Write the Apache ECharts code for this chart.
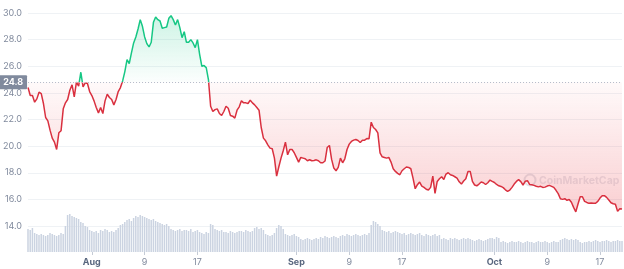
<!DOCTYPE html>
<html><head><meta charset="utf-8">
<script src="https://cdn.jsdelivr.net/npm/echarts@6/dist/echarts.min.js"></script>
<style>html,body{margin:0;padding:0;background:#fff}#c{width:624px;height:269px}</style>
</head><body><div id="c"></div>
<script>
// ---- data ----
const startTimeUTC = Date.UTC(2023, 6, 22, 8); // Jul 22, 08:00
const stepHours = 8;
const baselineValue = 24.8;

const priceValues = [
  24.4, 23.8, 23.8, 23.3, 23.55, 24.05, 23.95, 23.2, 22.15, 21.9,
  21.2, 20.6, 20.3, 19.75, 21.0, 21.15, 22.8, 23.25, 23.5, 24.2,
  24.6, 23.7, 24.8, 24.5, 25.55, 24.45, 24.75, 24.7, 24.1, 23.8,
  23.4, 22.9, 22.5, 22.9, 22.45, 23.4, 23.9, 23.65, 23.5, 23.1,
  23.5, 24.1, 24.4, 24.9, 25.6, 26.5, 26.2, 27.0, 27.75, 28.2,
  28.8, 29.5, 29.0, 28.2, 27.7, 27.45, 27.8, 29.3, 29.7, 29.5,
  29.4, 28.85, 28.9, 28.95, 29.6, 29.8, 29.5, 29.1, 29.5, 28.9,
  28.15, 28.6, 27.8, 27.8, 28.0, 27.75, 27.4, 28.0, 26.9, 26.0,
  26.05, 25.9, 25.0, 23.0, 22.6, 22.74, 22.8, 22.45, 22.3, 22.6,
  23.0, 22.85, 22.3, 22.25, 22.1, 22.7, 22.95, 23.4, 23.25, 23.25,
  23.2, 23.45, 23.25, 23.1, 22.9, 22.7, 21.4, 20.6, 20.4, 20.1,
  19.85, 19.8, 19.1, 17.75, 18.45, 19.1, 19.65, 20.3, 19.35, 19.75,
  19.75, 19.5, 19.15, 18.8, 19.15, 19.1, 19.05, 18.9, 18.98, 18.9,
  18.92, 18.97, 18.9, 18.75, 18.75, 18.88, 19.9, 20.05, 19.0, 18.35,
  18.15, 18.4, 19.1, 18.75, 19.05, 19.75, 20.15, 20.35, 20.45, 20.5,
  20.42, 20.27, 20.45, 20.45, 20.57, 20.55, 21.8, 21.4, 21.25, 21.0,
  19.5, 19.2, 19.15, 19.1, 19.15, 18.8, 18.3, 18.1, 17.95, 17.85,
  18.15, 18.3, 18.43, 18.4, 18.3, 17.6, 16.8, 17.1, 17.3, 17.0,
  16.9, 16.76, 16.7, 16.9, 17.75, 16.45, 17.35, 17.55, 17.7, 17.5,
  17.9, 18.0, 17.85, 17.8, 17.7, 17.6, 17.32, 17.15, 17.38, 17.55,
  18.1, 18.1, 17.35, 17.08, 17.02, 17.15, 17.3, 17.25, 17.12, 17.25,
  17.45, 17.35, 17.27, 17.12, 17.02, 16.97, 16.88, 16.72, 16.6, 16.7,
  16.9, 17.15, 17.35, 17.48, 17.33, 17.08, 17.36, 17.4, 17.12, 17.1,
  17.05, 16.99, 16.94, 16.98, 16.9, 16.92, 17.0, 17.05, 16.98, 16.9,
  16.68, 16.43, 16.05, 16.0, 16.05, 15.93, 15.99, 15.78, 15.4, 15.06,
  15.65, 16.2, 16.2, 15.85, 15.77, 15.7, 15.72, 15.7, 15.71, 15.85,
  16.1, 16.28, 16.28, 16.15, 15.95, 15.75, 15.67, 15.63, 15.1, 15.3, 15.27
];

const volumeValues = [
  23, 22, 24,
  19, 18, 17, 18, 17,
  16, 17, 19, 18, 17, 16, 17,
  19, 18,
  26,
  37, 38, 36, 35,
  34, 33,
  30, 29,
  26, 25,
  22, 21, 20, 21, 19,
  22, 21, 23, 22, 20,
  21, 20, 22, 24,
  27, 28, 30,
  32, 33, 31, 34,
  36, 35, 37, 36, 35, 34,
  33, 32, 33, 31, 30,
  29, 28, 27, 28, 26,
  23, 22, 21, 22, 23, 21, 22,
  22, 21, 23, 20, 21, 22, 20,
  19, 18, 20, 19,
  28, 27,
  23, 22, 21, 22, 20,
  20, 19, 21, 20, 19, 20, 21,
  21, 20, 22, 21, 20, 21,
  24, 25, 23, 24, 22,
  18, 17, 16, 17, 19,
  24, 27, 26, 23,
  18, 17, 16, 17, 18, 16, 15,
  13, 12, 13, 14, 13, 12, 13, 14, 13,
  15, 14, 16, 15, 14, 15, 16, 15, 14, 16,
  17, 16, 18, 17, 16, 17, 18, 17, 16, 17, 18, 17, 19,
  27, 31, 30, 28, 26, 22, 21,
  20, 21, 19, 20, 21, 20, 19,
  18, 19, 17, 18, 19, 18, 17, 18, 19,
  17, 16, 18, 17, 16, 17, 18, 16, 17,
  13, 14, 13, 12, 14, 13, 14, 13, 12, 13, 14, 13, 14, 13,
  12, 11, 12, 13, 12, 11, 12, 13, 14,
  14, 13, 15, 14,
  10, 11, 10, 9, 10, 11, 10, 10, 11, 10, 9, 10, 11, 10, 10, 9, 10, 11, 10, 10, 11, 10, 9, 10, 11, 10, 10,
  12, 13, 14, 13, 12, 13, 12, 13, 12,
  10, 9, 10, 10,
  11, 10, 11, 12, 11, 10, 11, 11, 12, 11, 10, 11, 11, 12, 11, 11
];

const tickDates = ['08-01', '08-09', '08-17', '09-01', '09-09', '09-17', '10-01', '10-09', '10-17'];
const tickLabels = ['Aug', '9', '17', 'Sep', '9', '17', 'Oct', '9', '17'];

// ---- build ----
const pad = n => (n < 10 ? '0' : '') + n;
const categories = priceValues.map((_, i) => {
  const d = new Date(startTimeUTC + i * stepHours * 3600e3);
  return pad(d.getUTCMonth() + 1) + '-' + pad(d.getUTCDate()) + ' ' + pad(d.getUTCHours());
});
const tickIndex = {};
tickDates.forEach((d, k) => {
  const idx = categories.indexOf(d + ' 00');
  if (idx >= 0) tickIndex[idx] = tickLabels[k];
});

const FONT = 'Inter, "Noto Sans", sans-serif';
const GREEN = '#16c784', RED = '#d9303f';
const chart = echarts.init(document.getElementById('c'), null, { renderer: 'canvas' });

const option = {
  animation: false,
  textStyle: { fontFamily: FONT },
  grid: [
    { left: 28, right: 2, top: 13, bottom: 43 },
    { left: 28, right: 2, top: 208, bottom: 17 }
  ],
  xAxis: [
    { type: 'category', gridIndex: 0, data: categories, boundaryGap: false, show: false },
    {
      type: 'category', gridIndex: 1, data: categories, boundaryGap: false,
      axisLine: { show: false },
      axisTick: { show: true, interval: i => i in tickIndex, length: 3, lineStyle: { color: '#c5cbd5' } },
      axisLabel: {
        interval: i => i in tickIndex,
        margin: 6,
        formatter: (v, i) => {
          const t = tickIndex[i];
          if (t == null) return '';
          return isNaN(+t) ? '{m|' + t + '}' : '{d|' + t + '}';
        },
        rich: {
          m: { fontFamily: FONT, fontSize: 9, fontWeight: 'bold', color: '#58667e' },
          d: { fontFamily: FONT, fontSize: 9, color: '#808a9d' }
        }
      },
      splitLine: { show: false }
    }
  ],
  yAxis: [
    {
      type: 'value', gridIndex: 0, min: 14, max: 30, interval: 2,
      axisLine: { show: false }, axisTick: { show: false },
      axisLabel: { formatter: v => v.toFixed(1), color: '#808a9d', fontSize: 9, margin: 6, fontFamily: FONT },
      splitLine: { lineStyle: { color: '#eff2f5', width: 1 } }
    },
    { type: 'value', gridIndex: 1, min: 0, max: 44, show: false, splitLine: { show: false } }
  ],
  graphic: [
    { type: 'circle', shape: { cx: 530, cy: 180, r: 5.5 }, style: { fill: 'none', stroke: 'rgba(150,160,180,0.28)', lineWidth: 2 }, z: 1 },
    { type: 'text', x: 539, y: 175, style: { text: 'CoinMarketCap', font: 'bold 10.5px Inter, sans-serif', fill: 'rgba(150,160,180,0.25)' }, z: 1 }
  ],
  series: [
    {
      type: 'bar', xAxisIndex: 1, yAxisIndex: 1, data: volumeValues,
      barWidth: 1.5, itemStyle: { color: '#cbd3e1' }, silent: true
    },
    {
      type: 'line', xAxisIndex: 0, yAxisIndex: 0, data: priceValues,
      showSymbol: false, symbol: 'none',
      lineStyle: { width: 1.5, color: RED },
      areaStyle: { origin: baselineValue, color: 'rgba(234,57,67,0.1)' },
      markLine: {
        symbol: 'none', silent: true,
        lineStyle: { type: [1, 2], color: '#b4bac8', width: 1 },
        label: {
          position: 'start', formatter: String(baselineValue), color: '#fff',
          backgroundColor: '#808a9d', padding: [3, 4, 2, 4], fontSize: 9, fontWeight: 'bold',
          distance: 1, borderRadius: 1, fontFamily: FONT
        },
        data: [{ yAxis: baselineValue }]
      },
      z: 3
    }
  ]
};
chart.setOption(option);

// colour split at the baseline, in pixel space of the price axis
const yBase = chart.convertToPixel({ yAxisIndex: 0 }, baselineValue);
const yTop = chart.convertToPixel({ yAxisIndex: 0 }, Math.max(...priceValues));
const yBot = chart.convertToPixel({ yAxisIndex: 0 }, Math.min(...priceValues));
const off = (yBase - yTop) / (yBot - yTop);
const o2 = (yBase - (yTop - 4)) / ((yBot + 4) - (yTop - 4));
const lineGrad = new echarts.graphic.LinearGradient(0, yTop - 4, 0, yBot + 4, [
  { offset: 0, color: GREEN }, { offset: o2, color: GREEN },
  { offset: o2, color: RED }, { offset: 1, color: RED }
], true);
const areaGrad = new echarts.graphic.LinearGradient(0, yTop, 0, yBot, [
  { offset: 0, color: 'rgba(22,199,132,0.3)' },
  { offset: off, color: 'rgba(22,199,132,0.02)' },
  { offset: off, color: 'rgba(234,57,67,0.04)' },
  { offset: 1, color: 'rgba(234,57,67,0.34)' }
], true);
chart.setOption({ series: [{}, { lineStyle: { color: lineGrad }, areaStyle: { color: areaGrad } }] });
</script>
</body></html>
